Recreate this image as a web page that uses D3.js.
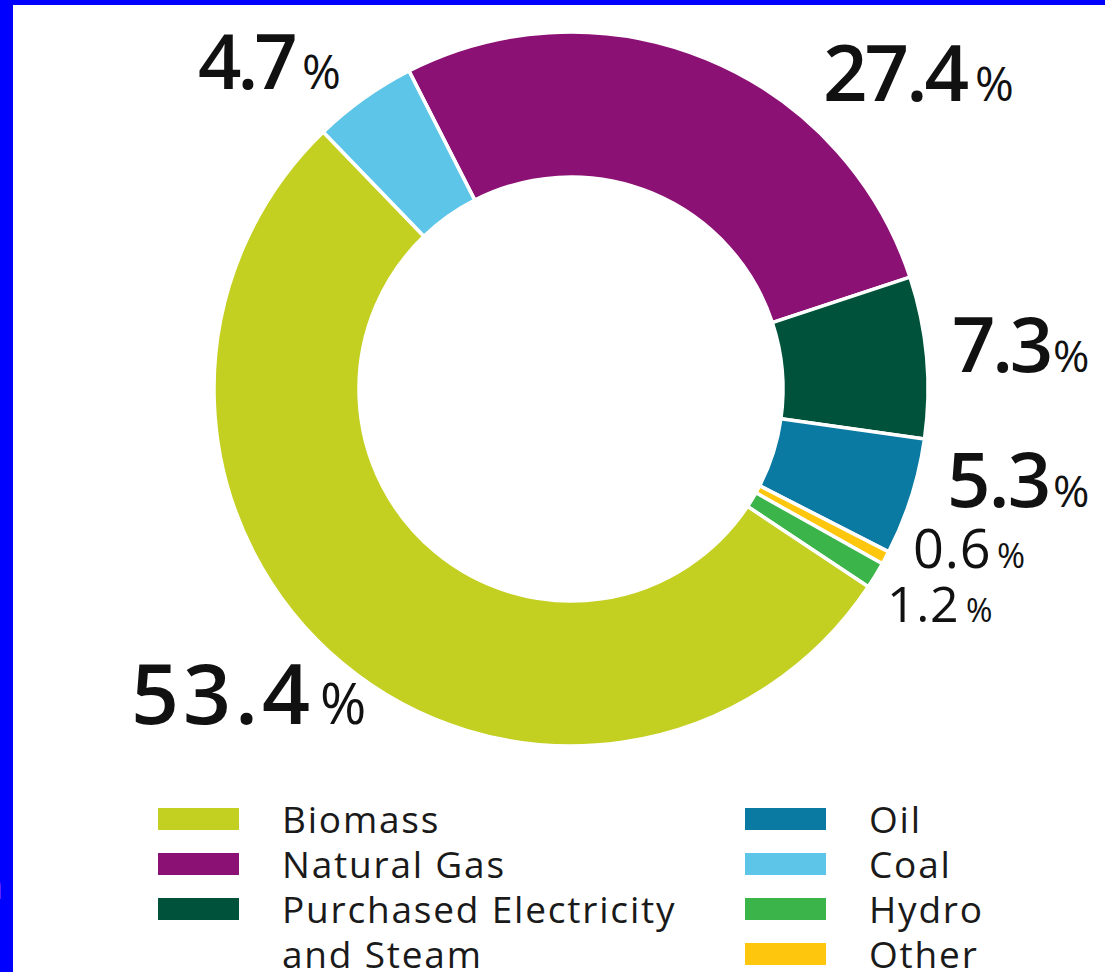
<!DOCTYPE html>
<html>
<head>
<meta charset="utf-8">
<script src="https://cdn.jsdelivr.net/npm/d3@7"></script>
<style>
  html, body { margin: 0; padding: 0; background: #fff; }
  svg { display: block; }
</style>
</head>
<body>
<svg id="chart" width="1105" height="972"></svg>
<script>
// Energy mix shares (%)
const categories = ["Biomass", "Natural Gas", "Purchased Electricity and Steam", "Oil", "Coal", "Hydro", "Other"];
const shares     = [53.4, 27.4, 7.3, 5.3, 4.7, 1.2, 0.6];
const colors     = ["#c3cf21", "#8b1174", "#00523a", "#0a7aa2", "#5cc5e8", "#3bb44a", "#fec60c"];
// Clockwise order of the slices around the ring
const ringOrder  = ["Natural Gas", "Purchased Electricity and Steam", "Oil", "Other", "Hydro", "Biomass", "Coal"];
// Legend text, split into lines
const legendLines = [["Biomass"], ["Natural Gas"], ["Purchased Electricity", "and Steam"], ["Oil"], ["Coal"], ["Hydro"], ["Other"]];

// Placement of the value labels around the ring
const labelLayout = [
  { name: "Natural Gas",                     x: 823, y: 101, size: 78, weight: 600, ls: -3,   px: 975,  psize: 47 },
  { name: "Purchased Electricity and Steam", x: 952, y: 372, size: 76, weight: 600, ls: -3.3, px: 1053, psize: 44 },
  { name: "Oil",                             x: 947, y: 507, size: 76, weight: 600, ls: -1.7, px: 1053, psize: 44 },
  { name: "Other",                           x: 913, y: 568, size: 54, weight: 500, ls: 0.8,  px: 997,  psize: 34 },
  { name: "Hydro",                           x: 887, y: 622, size: 50, weight: 500, ls: 0.6,  px: 966,  psize: 32 },
  { name: "Biomass",                         x: 131, y: 724, size: 84, weight: 600, ls: 4,    px: 320,  psize: 56 },
  { name: "Coal",                            x: 198, y: 89,  size: 76, weight: 600, ls: -4,   px: 302,  psize: 47 }
];

const W = 1105, H = 972;
const svg = d3.select("#chart");

// Frame
svg.append("rect").attr("width", W).attr("height", H).attr("fill", "#0000ff");
svg.append("rect").attr("x", 13).attr("y", 5).attr("width", W - 13).attr("height", H - 5).attr("fill", "#ffffff");
svg.append("text")
  .attr("x", 3).attr("y", 899)
  .attr("text-anchor", "end")
  .attr("font-family", "Open Sans, sans-serif")
  .attr("font-size", 38)
  .attr("fill", "#ffffff")
  .text("n");

const color = d3.scaleOrdinal().domain(categories).range(colors);
const valueOf = new Map(categories.map((c, i) => [c, shares[i]]));
const ringData = ringOrder.map(name => ({ name, value: valueOf.get(name) }));

const cx = 571, cy = 389;
const startAngle = -27 * Math.PI / 180;
const pie = d3.pie()
  .sort(null)
  .value(d => d.value)
  .startAngle(startAngle)
  .endAngle(startAngle + 2 * Math.PI);
const arc = d3.arc().innerRadius(212).outerRadius(357);

const ring = svg.append("g").attr("transform", `translate(${cx},${cy})`);
ring.selectAll("path")
  .data(pie(ringData))
  .join("path")
  .attr("d", arc)
  .attr("fill", d => color(d.data.name))
  .attr("stroke", "#ffffff")
  .attr("stroke-width", 3.5)
  .attr("stroke-linejoin", "miter");

// Value labels: number followed by a smaller percent sign
const fmt = d3.format(".1f");
const labels = svg.append("g")
  .attr("font-family", "Open Sans, sans-serif")
  .attr("fill", "#111111");
labelLayout.forEach(l => {
  const t = labels.append("text").attr("x", l.x).attr("y", l.y);
  t.append("tspan")
    .attr("font-size", l.size)
    .attr("font-weight", l.weight)
    .attr("letter-spacing", l.ls)
    .text(fmt(valueOf.get(l.name)));
  t.append("tspan")
    .attr("x", l.px)
    .attr("font-size", l.psize)
    .attr("font-weight", 400)
    .text("%");
});

// Legend: two columns
const columns = [
  { x: 158, items: [0, 1, 2] },
  { x: 745, items: [3, 4, 5, 6] }
];
const legend = svg.append("g")
  .attr("font-family", "Open Sans, sans-serif")
  .attr("font-size", 37)
  .attr("letter-spacing", 1.8)
  .attr("fill", "#1a1a1a");
columns.forEach(col => {
  col.items.forEach((ci, row) => {
    const top = 808 + row * 45;
    legend.append("rect")
      .attr("x", col.x).attr("y", top)
      .attr("width", 81).attr("height", 22)
      .attr("fill", color(categories[ci]));
    legendLines[ci].forEach((line, li) => {
      legend.append("text")
        .attr("x", col.x + 124)
        .attr("y", top + 25 + li * 45)
        .text(line);
    });
  });
});
</script>
</body>
</html>
